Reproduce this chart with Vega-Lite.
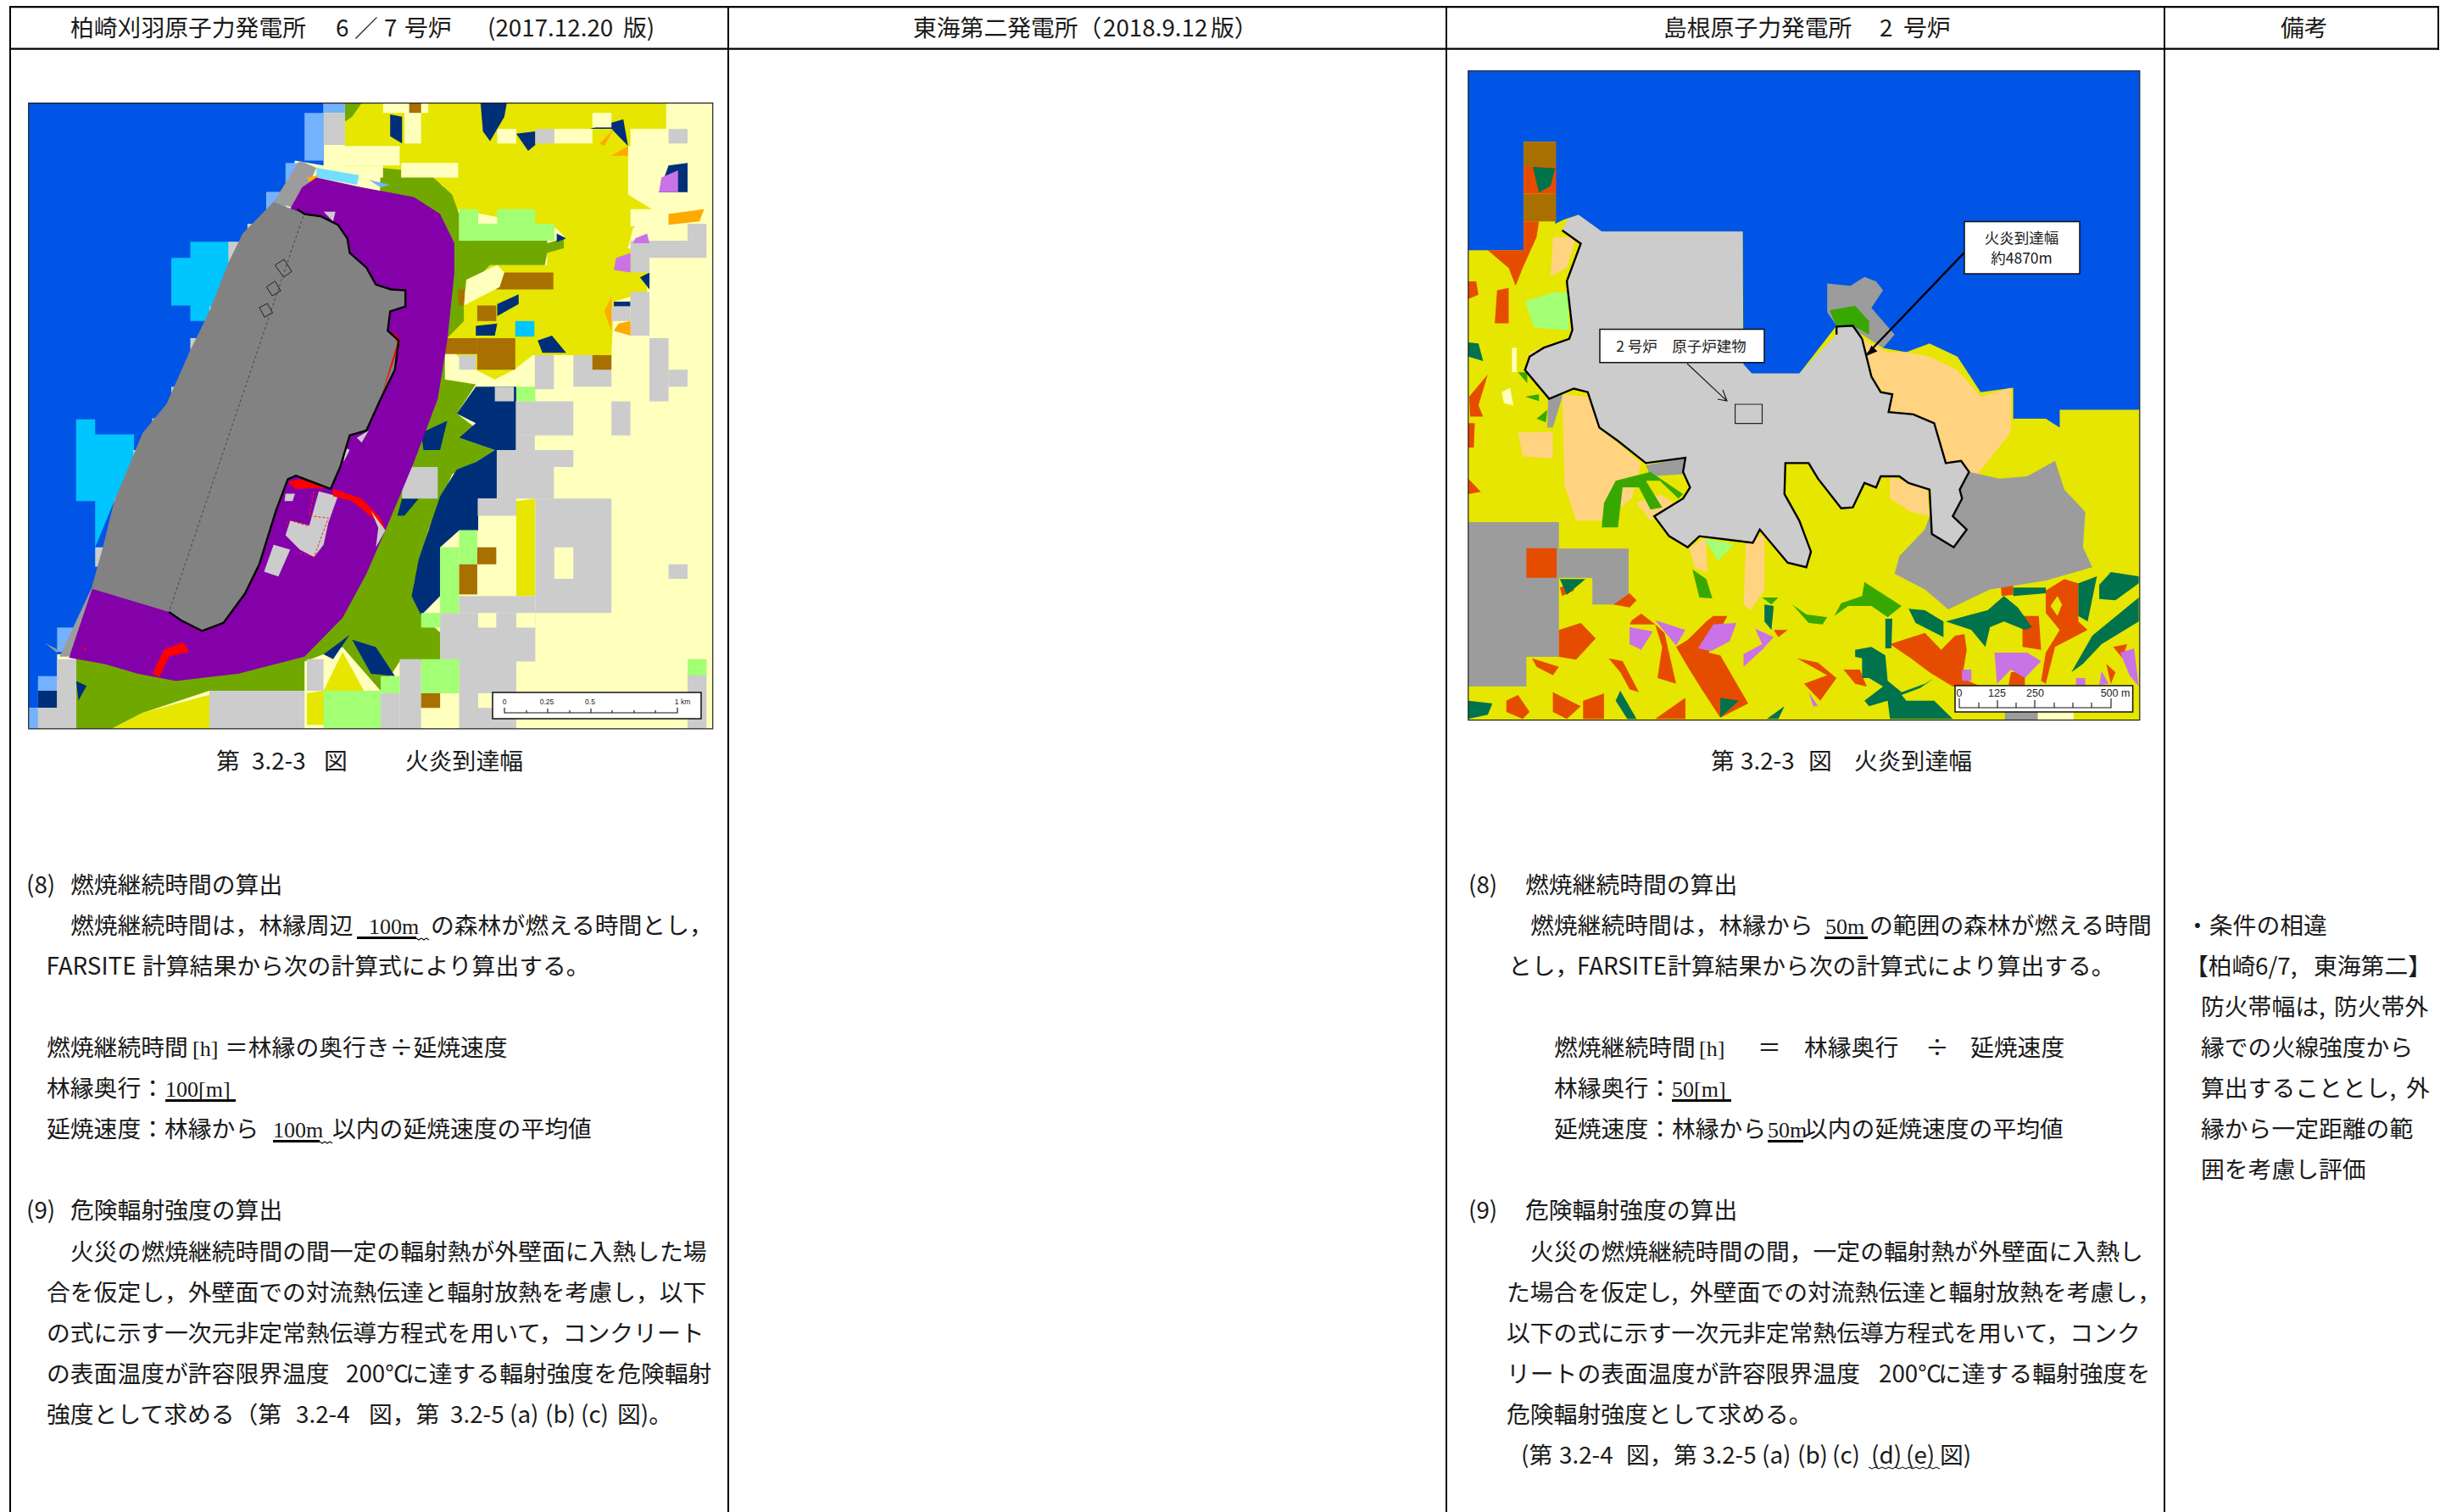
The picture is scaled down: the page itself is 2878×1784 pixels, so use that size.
{"$schema":"https://vega.github.io/schema/vega-lite/v6.json","width":2878,"height":1784,"padding":0,"autosize":{"type":"fit","contains":"padding"},"background":"#ffffff","config":{"view":{"stroke":null}},"resolve":{"scale":{"x":"independent","y":"independent"}},
"layer":[
{"data":{"values":[{"c":"cr","x":60,"y":212,"x2":1498,"y2":1498}]},"mark":{"type":"rect"},"encoding":{"x":{"field":"x","type":"quantitative","axis":null,"scale":{"domain":[0,1568],"range":[0,880],"nice":false,"zero":false}},"x2":{"field":"x2"},"y":{"field":"y","type":"quantitative","axis":null,"scale":{"domain":[0,1568],"range":[0,900],"nice":false,"zero":false}},"y2":{"field":"y2"},"fill":{"field":"c","type":"nominal","legend":null,"scale":{"domain":["sea","nv","lb","cy","pu","gr","ye","cr","lg","mg","dg","br","lt","or","po","rd","li","oe","dk","bg","pc","k"],"range":["#0055e6","#002f7a","#73b2ff","#00c5ff","#8400a8","#70a800","#e6e600","#ffffbe","#cccccc","#828282","#9c9c9c","#a87000","#a3ff73","#ffaa00","#ffd37f","#ff0000","#c973e6","#e64c00","#00734c","#38a800","#73dfff","#000000"]}}}},
{"data":{"values":[
{"s":"a1","c":"sea","p":[[60,212],[680,212],[680,340],[620,330],[600,395],[560,395],[560,470],[450,700],[340,880],[260,1200],[200,1345],[120,1345],[120,1400],[80,1400],[80,1455],[60,1455]]},
{"s":"a2","c":"ye","p":[[725,212],[1400,212],[1400,300],[1320,300],[1320,400],[1370,430],[1330,470],[1320,510],[1360,520],[1360,600],[1290,620],[1285,730],[1120,730],[1080,760],[1040,780],[1000,760],[960,730],[935,700],[975,650],[975,600],[1030,545],[1150,545],[1150,500],[1190,490],[1170,470],[960,430],[930,380],[800,345],[725,345]]},
{"s":"a3","c":"gr","p":[[725,212],[760,212],[740,240],[725,250]]},
{"s":"a4","c":"gr","p":[[800,345],[900,355],[950,400],[965,440],[965,495],[1150,495],[1150,500],[1185,490],[1185,510],[1150,520],[1145,545],[1030,545],[975,600],[975,660],[935,700],[935,780],[1000,790],[960,850],[1000,880],[965,900],[1040,925],[1000,950],[950,975],[900,1090],[870,1200],[885,1265],[925,1300],[925,1360],[840,1360],[800,1420],[720,1330],[640,1360],[640,1420],[440,1420],[300,1465],[235,1498],[160,1498],[160,1340],[300,1300],[600,1200],[780,1000]]},
{"s":"a5","c":"nv","p":[[1000,795],[1085,795],[1085,1025],[1005,1025],[1005,1090],[965,1090],[925,1125],[925,1225],[885,1265],[865,1225],[880,1150],[925,1020],[960,965],[1000,950],[1040,925],[965,900],[1000,870],[960,850]]},
{"s":"a6","c":"nv","p":[[740,1315],[790,1330],[830,1390],[780,1385]]},{"s":"a7","c":"nv","p":[[680,1345],[735,1305],[700,1355]]},{"s":"a8","c":"nv","p":[[160,1400],[182,1410],[165,1440]]},
{"s":"a9","c":"nv","p":[[1010,212],[1065,212],[1060,240],[1030,290],[1015,270]]},{"s":"a10","c":"nv","p":[[820,235],[845,240],[845,295],[820,280]]},{"s":"a11","c":"nv","p":[[1085,275],[1125,270],[1125,298],[1110,310]]},{"s":"a12","c":"nv","p":[[1405,340],[1445,335],[1445,395],[1385,395]]},{"s":"a13","c":"nv","p":[[885,890],[940,865],[925,925],[890,925]]},{"s":"a14","c":"nv","p":[[1130,700],[1160,690],[1190,725],[1140,725]]},{"s":"a15","c":"nv","p":[[1045,625],[1090,605],[1090,625],[1045,650]]},{"s":"a16","c":"nv","p":[[1000,670],[1045,665],[1040,690],[1000,690]]},{"s":"a17","c":"nv","p":[[1345,570],[1365,560],[1365,595]]},{"s":"a18","c":"nv","p":[[1290,620],[1325,620],[1325,630],[1290,630]]},{"s":"a19","c":"nv","p":[[1240,265],[1310,245],[1320,300],[1285,265]]},{"s":"a20","c":"nv","p":[[1170,480],[1190,490],[1170,498]]},
{"s":"a21","c":"nv","p":[[845,1025],[880,1025],[850,1060],[835,1060]]},
{"s":"a22","c":"ye","p":[[1085,1030],[1125,1025],[1125,1225],[1085,1225]]},{"s":"a23","c":"ye","p":[[680,1420],[720,1340],[765,1420],[720,1430],[680,1490],[645,1490],[645,1425]]},{"s":"a24","c":"ye","p":[[235,1498],[300,1465],[440,1428],[440,1498]]},{"s":"a25","c":"ye","p":[[1085,680],[1125,660],[1125,730],[1085,730]]},
{"s":"a26","c":"cy","p":[[360,530],[400,530],[400,497],[500,497],[480,660],[400,660],[400,628],[360,628]]},
{"s":"a27","c":"cy","p":[[160,862],[200,862],[200,893],[282,893],[280,1000],[240,1030],[200,1125],[200,1030],[160,1030]]}
]},"transform":[{"flatten":["p"]},{"window":[{"op":"row_number","as":"i"}]}],"mark":{"type":"line","strokeWidth":0},"encoding":{"x":{"field":"p[0]","type":"quantitative","axis":null,"scale":{"domain":[0,1568],"range":[0,880],"nice":false,"zero":false}},"y":{"field":"p[1]","type":"quantitative","axis":null,"scale":{"domain":[0,1568],"range":[0,900],"nice":false,"zero":false}},"fill":{"field":"c","type":"nominal","legend":null},"detail":{"field":"s"},"order":{"field":"i"}}},
{"data":{"values":[
{"c":"lb","x":640,"y":232,"x2":680,"y2":330},{"c":"lb","x":680,"y":212,"x2":725,"y2":232},{"c":"lb","x":600,"y":335,"x2":640,"y2":395},{"c":"lb","x":560,"y":395,"x2":600,"y2":430},{"c":"lb","x":120,"y":1290,"x2":160,"y2":1340},{"c":"lb","x":80,"y":1390,"x2":120,"y2":1420},{"c":"lb","x":60,"y":1455,"x2":80,"y2":1498},
{"c":"nv","x":80,"y":1420,"x2":120,"y2":1455},
{"c":"lg","x":680,"y":232,"x2":725,"y2":298},{"c":"lg","x":120,"y":1355,"x2":160,"y2":1498},{"c":"lg","x":80,"y":1455,"x2":160,"y2":1498},
{"c":"lg","x":480,"y":497,"x2":505,"y2":540},{"c":"lg","x":400,"y":695,"x2":430,"y2":750},{"c":"lg","x":360,"y":795,"x2":380,"y2":825},{"c":"lg","x":320,"y":860,"x2":335,"y2":890},{"c":"lg","x":440,"y":630,"x2":460,"y2":670},{"c":"lg","x":280,"y":925,"x2":300,"y2":960},{"c":"lg","x":240,"y":1025,"x2":260,"y2":1090},{"c":"lg","x":200,"y":1125,"x2":225,"y2":1165},{"c":"lg","x":520,"y":460,"x2":540,"y2":480},
{"c":"cr","x":683,"y":300,"x2":840,"y2":340},{"c":"cr","x":725,"y":340,"x2":805,"y2":365},{"c":"cr","x":843,"y":335,"x2":963,"y2":365},{"c":"cr","x":850,"y":230,"x2":885,"y2":295},{"c":"cr","x":805,"y":212,"x2":900,"y2":232},{"c":"cr","x":1045,"y":265,"x2":1085,"y2":295},{"c":"cr","x":1165,"y":265,"x2":1245,"y2":295},{"c":"cr","x":1245,"y":232,"x2":1285,"y2":262},{"c":"cr","x":1325,"y":265,"x2":1405,"y2":330},{"c":"cr","x":1325,"y":430,"x2":1405,"y2":465},{"c":"cr","x":1005,"y":1160,"x2":1085,"y2":1225},
{"c":"lg","x":1124,"y":730,"x2":1164,"y2":800},{"c":"lg","x":1205,"y":730,"x2":1285,"y2":795},{"c":"lg","x":1040,"y":795,"x2":1080,"y2":825},{"c":"lg","x":1084,"y":825,"x2":1205,"y2":895},{"c":"lg","x":1084,"y":895,"x2":1124,"y2":925},{"c":"lg","x":1044,"y":925,"x2":1205,"y2":960},{"c":"lg","x":1044,"y":960,"x2":1164,"y2":1025},{"c":"lg","x":1004,"y":1025,"x2":1085,"y2":1060},{"c":"lg","x":1125,"y":1025,"x2":1285,"y2":1260},{"c":"lg","x":1285,"y":825,"x2":1325,"y2":895},{"c":"lg","x":1365,"y":695,"x2":1405,"y2":825},{"c":"lg","x":1405,"y":760,"x2":1445,"y2":795},{"c":"lg","x":1405,"y":1160,"x2":1445,"y2":1190},{"c":"lg","x":965,"y":1225,"x2":1125,"y2":1260},{"c":"lg","x":925,"y":1260,"x2":1125,"y2":1360},{"c":"lg","x":965,"y":1355,"x2":1085,"y2":1498},{"c":"lg","x":840,"y":1355,"x2":885,"y2":1498},{"c":"lg","x":645,"y":1355,"x2":680,"y2":1420},{"c":"lg","x":440,"y":1420,"x2":640,"y2":1498},{"c":"lg","x":800,"y":1425,"x2":840,"y2":1498},{"c":"lg","x":1325,"y":495,"x2":1485,"y2":530},{"c":"lg","x":1445,"y":460,"x2":1485,"y2":495},{"c":"lg","x":1325,"y":530,"x2":1365,"y2":560},{"c":"lg","x":1325,"y":600,"x2":1365,"y2":690},{"c":"lg","x":1285,"y":630,"x2":1325,"y2":660},{"c":"lg","x":1405,"y":265,"x2":1445,"y2":295},{"c":"lg","x":1125,"y":265,"x2":1165,"y2":295},{"c":"lg","x":965,"y":730,"x2":1000,"y2":760},{"c":"lg","x":845,"y":960,"x2":920,"y2":1025},{"c":"lg","x":1445,"y":1385,"x2":1485,"y2":1498},
{"c":"cr","x":1165,"y":1125,"x2":1205,"y2":1190},{"c":"cr","x":1005,"y":1260,"x2":1043,"y2":1290},{"c":"cr","x":1085,"y":1260,"x2":1125,"y2":1290},{"c":"cr","x":1005,"y":1425,"x2":1043,"y2":1455},
{"c":"lt","x":965,"y":430,"x2":1005,"y2":495},{"c":"lt","x":1045,"y":430,"x2":1125,"y2":495},{"c":"lt","x":1005,"y":460,"x2":1165,"y2":495},{"c":"lt","x":925,"y":1125,"x2":965,"y2":1260},{"c":"lt","x":965,"y":1090,"x2":1003,"y2":1160},{"c":"lt","x":885,"y":1260,"x2":925,"y2":1290},{"c":"lt","x":885,"y":1355,"x2":965,"y2":1425},{"c":"lt","x":680,"y":1420,"x2":800,"y2":1498},{"c":"lt","x":800,"y":1390,"x2":840,"y2":1425},{"c":"lt","x":1445,"y":1355,"x2":1485,"y2":1388},{"c":"lt","x":1085,"y":795,"x2":1125,"y2":825},
{"c":"br","x":1003,"y":628,"x2":1043,"y2":660},{"c":"br","x":1003,"y":695,"x2":1083,"y2":760},{"c":"br","x":935,"y":695,"x2":1003,"y2":728},{"c":"br","x":1043,"y":560,"x2":1163,"y2":595},{"c":"br","x":963,"y":595,"x2":977,"y2":628},{"c":"br","x":1245,"y":730,"x2":1285,"y2":760},{"c":"br","x":965,"y":1160,"x2":1003,"y2":1222},{"c":"br","x":1003,"y":1125,"x2":1043,"y2":1160},{"c":"br","x":885,"y":1425,"x2":925,"y2":1455},{"c":"br","x":860,"y":212,"x2":885,"y2":232},
{"c":"cy","x":1083,"y":660,"x2":1123,"y2":692}
]},"mark":{"type":"rect"},"encoding":{"x":{"field":"x","type":"quantitative","axis":null,"scale":{"domain":[0,1568],"range":[0,880],"nice":false,"zero":false}},"x2":{"field":"x2"},"y":{"field":"y","type":"quantitative","axis":null,"scale":{"domain":[0,1568],"range":[0,900],"nice":false,"zero":false}},"y2":{"field":"y2"},"fill":{"field":"c","type":"nominal","legend":null}}},
{"data":{"values":[
{"s":"b0","c":"cr","p":[[980,575],[1045,545],[1060,560],[1050,590],[975,628]]},
{"s":"b1","c":"li","p":[[1390,365],[1425,350],[1425,395],[1385,395]]},{"s":"b2","c":"li","p":[[1295,530],[1325,520],[1325,560],[1290,555]]},{"s":"b3","c":"li","p":[[1335,490],[1360,480],[1365,500],[1330,500]]},
{"s":"b4","c":"or","p":[[1260,295],[1290,265],[1270,300]]},{"s":"b5","c":"or","p":[[1285,320],[1320,300],[1320,320]]},{"s":"b6","c":"or","p":[[1405,440],[1480,430],[1470,455],[1405,462]]},{"s":"b7","c":"or","p":[[1300,665],[1325,660],[1325,690],[1290,680]]},{"s":"b8","c":"or","p":[[1270,640],[1285,610],[1285,680]]},
{"s":"b9","c":"dg","p":[[215,1210],[192,1210],[125,1350],[145,1350]]},{"s":"b10","c":"dg","p":[[630,330],[665,345],[625,430],[575,415]]},{"s":"b11","c":"dg","p":[[95,1322],[120,1335],[120,1342]]},
{"s":"b12","c":"pc","p":[[665,345],[755,360],[750,380],[665,365]]},{"s":"b13","c":"or","p":[[645,365],[670,360],[655,382]]},{"s":"b14","c":"lb","p":[[775,370],[820,380],[800,385]]},
{"s":"b15","c":"pu","p":[[635,385],[665,365],[760,385],[870,405],[925,440],[955,500],[955,560],[940,700],[920,820],[870,950],[810,1090],[770,1180],[720,1270],[640,1350],[500,1385],[370,1400],[290,1385],[220,1365],[145,1352],[192,1215],[400,800]]},
{"s":"b16","c":"mg","p":[[575,415],[640,440],[675,445],[710,462],[730,490],[735,520],[770,550],[790,585],[822,595],[852,597],[852,630],[820,640],[815,680],[838,700],[830,760],[800,820],[770,885],[735,895],[715,960],[695,1005],[622,978],[605,985],[580,1050],[545,1160],[515,1220],[470,1280],[425,1297],[380,1275],[355,1258],[192,1210],[215,1130],[240,1030],[300,890],[350,830],[400,720],[440,640],[480,540],[510,480]]},
{"s":"b17","c":"lg","p":[[670,1010],[710,1020],[690,1075],[680,1120],[660,1145],[630,1130],[600,1100],[610,1070],[650,1080]]},{"s":"b18","c":"lg","p":[[575,1120],[610,1130],[585,1185],[555,1175]]},{"s":"b19","c":"lg","p":[[680,435],[705,435],[700,455]]},{"s":"b20","c":"lg","p":[[750,900],[775,885],[760,910]]},{"s":"b21","c":"lg","p":[[725,920],[735,925],[722,950]]},{"s":"b22","c":"lg","p":[[600,1015],[620,1015],[615,1030],[598,1030]]},
{"s":"b23","c":"rd","p":[[700,1005],[760,1025],[800,1065],[810,1090],[790,1070],[740,1030],[700,1020]]},{"s":"b24","c":"rd","p":[[605,990],[630,985],[690,1003],[620,1005]]},{"s":"b25","c":"rd","p":[[320,1385],[345,1335],[385,1320],[398,1340],[355,1350],[335,1392]]},{"s":"b26","c":"rd","p":[[825,680],[842,700],[800,820],[815,770],[835,705]]},{"s":"b27","c":"rd","p":[[175,1330],[183,1335],[178,1338]]},
{"s":"b28","c":"lg","p":[[780,1050],[810,1090],[790,1125],[795,1085]]}
]},"transform":[{"flatten":["p"]},{"window":[{"op":"row_number","as":"i"}]}],"mark":{"type":"line","strokeWidth":0},"encoding":{"x":{"field":"p[0]","type":"quantitative","axis":null,"scale":{"domain":[0,1568],"range":[0,880],"nice":false,"zero":false}},"y":{"field":"p[1]","type":"quantitative","axis":null,"scale":{"domain":[0,1568],"range":[0,900],"nice":false,"zero":false}},"fill":{"field":"c","type":"nominal","legend":null},"detail":{"field":"s"},"order":{"field":"i"}}},
{"data":{"values":[
{"s":"o1","p":[[625,430],[640,440],[675,445],[710,462],[730,490],[735,520],[770,550],[790,585],[822,595],[852,597],[852,630],[820,640],[815,680],[838,700],[830,760],[800,820],[770,885],[735,895],[715,960],[695,1005],[622,978],[605,985],[580,1050],[545,1160],[515,1220],[470,1280],[425,1297],[380,1275],[355,1258]]}
]},"transform":[{"flatten":["p"]},{"window":[{"op":"row_number","as":"i"}]}],"mark":{"type":"line","stroke":"#000000","strokeWidth":2.4},"encoding":{"x":{"field":"p[0]","type":"quantitative","axis":null,"scale":{"domain":[0,1568],"range":[0,880],"nice":false,"zero":false}},"y":{"field":"p[1]","type":"quantitative","axis":null,"scale":{"domain":[0,1568],"range":[0,900],"nice":false,"zero":false}},"detail":{"field":"s"},"order":{"field":"i"}}},
{"data":{"values":[
{"s":"q1","p":[[578,545],[597,533],[613,558],[596,570],[578,545]]},{"s":"q2","p":[[560,590],[578,578],[590,598],[572,608],[560,590]]},{"s":"q3","p":[[545,632],[562,624],[573,643],[556,652],[545,632]]}
]},"transform":[{"flatten":["p"]},{"window":[{"op":"row_number","as":"i"}]}],"mark":{"type":"line","stroke":"#222222","strokeWidth":1},"encoding":{"x":{"field":"p[0]","type":"quantitative","axis":null,"scale":{"domain":[0,1568],"range":[0,880],"nice":false,"zero":false}},"y":{"field":"p[1]","type":"quantitative","axis":null,"scale":{"domain":[0,1568],"range":[0,900],"nice":false,"zero":false}},"detail":{"field":"s"},"order":{"field":"i"}}},
{"data":{"values":[{"s":"d1","p":[[637,445],[355,1258]]}]},"transform":[{"flatten":["p"]},{"window":[{"op":"row_number","as":"i"}]}],"mark":{"type":"line","stroke":"#333333","strokeWidth":0.8,"strokeDash":[3,3]},"encoding":{"x":{"field":"p[0]","type":"quantitative","axis":null,"scale":{"domain":[0,1568],"range":[0,880],"nice":false,"zero":false}},"y":{"field":"p[1]","type":"quantitative","axis":null,"scale":{"domain":[0,1568],"range":[0,900],"nice":false,"zero":false}},"detail":{"field":"s"},"order":{"field":"i"}}},
{"data":{"values":[{"s":"d2","p":[[660,1010],[650,1060],[690,1065],[660,1145],[625,1135]]},{"s":"d3","p":[[600,1075],[610,1070],[650,1082]]}]},"transform":[{"flatten":["p"]},{"window":[{"op":"row_number","as":"i"}]}],"mark":{"type":"line","stroke":"#ff2020","strokeWidth":1,"strokeDash":[3,2]},"encoding":{"x":{"field":"p[0]","type":"quantitative","axis":null,"scale":{"domain":[0,1568],"range":[0,880],"nice":false,"zero":false}},"y":{"field":"p[1]","type":"quantitative","axis":null,"scale":{"domain":[0,1568],"range":[0,900],"nice":false,"zero":false}},"detail":{"field":"s"},"order":{"field":"i"}}},
{"data":{"values":[{"c":"ye","x":58,"y":45,"x2":1502,"y2":1510}]},"mark":{"type":"rect"},"encoding":{"x":{"field":"x","type":"quantitative","axis":null,"scale":{"domain":[0,1568],"range":[1700,2560],"nice":false,"zero":false}},"x2":{"field":"x2"},"y":{"field":"y","type":"quantitative","axis":null,"scale":{"domain":[0,1568],"range":[60,880],"nice":false,"zero":false}},"y2":{"field":"y2"},"fill":{"field":"c","type":"nominal","legend":null}}},
{"data":{"values":[
{"s":"c1","c":"dg","p":[[58,48],[253,48],[253,525],[183,525],[183,630],[58,630]]},{"s":"c2","c":"dg","p":[[253,142],[403,142],[403,340],[325,340],[325,245],[253,245]]},
{"s":"c3","c":"oe","p":[[183,140],[248,140],[248,245],[183,245]]},{"s":"c4","c":"oe","p":[[253,430],[300,405],[332,460],[290,535],[253,525]]},{"s":"c5","c":"oe","p":[[195,530],[253,560],[240,590],[205,560]]},{"s":"c6","c":"oe","p":[[410,395],[430,372],[460,410],[405,410]]},{"s":"c7","c":"oe","p":[[460,410],[480,440],[505,620],[465,600],[475,490]]},{"s":"c8","c":"oe","p":[[505,490],[530,465],[570,400],[585,380],[615,380],[575,510],[600,520],[660,690],[600,740],[560,640],[530,560]]},{"s":"c9","c":"oe","p":[[360,530],[390,540],[425,650],[405,640],[385,580]]},{"s":"c10","c":"oe","p":[[765,530],[810,545],[850,600],[815,680],[780,620],[830,590]]},{"s":"c11","c":"oe","p":[[865,570],[900,570],[915,630],[890,620]]},{"s":"c12","c":"oe","p":[[965,480],[1040,440],[1075,500],[1105,450],[1125,445],[1130,500],[1120,600],[1160,630],[1100,630],[1050,580],[1010,530]]},{"s":"c13","c":"oe","p":[[1250,380],[1285,380],[1290,500],[1250,490]]},{"s":"c14","c":"oe","p":[[1300,290],[1340,250],[1370,265],[1370,400],[1390,430],[1320,490],[1300,620],[1290,610],[1300,510],[1330,430],[1300,370]]},{"s":"c15","c":"ye","p":[[1325,310],[1335,340],[1325,380],[1310,345]]},{"s":"c16","c":"oe","p":[[1203,268],[1230,268],[1230,305],[1205,310]]},{"s":"c17","c":"oe","p":[[1225,580],[1255,575],[1255,625],[1220,625]]},{"s":"c18","c":"oe","p":[[305,680],[350,655],[350,745],[305,745]]},{"s":"c19","c":"oe","p":[[140,680],[165,660],[190,720],[175,745],[140,720]]},{"s":"c20","c":"oe","p":[[240,650],[300,700],[270,745],[240,720]]},{"s":"c21","c":"oe","p":[[460,745],[525,670],[525,745]]},{"s":"c22","c":"oe","p":[[1445,490],[1475,480],[1465,530]]},{"s":"c23","c":"oe","p":[[1430,550],[1450,580],[1440,620]]},{"s":"c24","c":"oe","p":[[255,280],[285,260],[285,290],[260,310]]},{"s":"c25","c":"oe","p":[[370,340],[405,300],[420,325],[405,350]]},{"s":"c26","c":"oe","p":[[715,430],[745,430],[725,455]]},
{"s":"c27","c":"li","p":[[460,395],[525,430],[505,485]]},{"s":"c28","c":"li","p":[[585,410],[635,405],[620,470],[580,505],[552,495]]},{"s":"c29","c":"li","p":[[405,420],[455,435],[430,500],[405,480]]},{"s":"c30","c":"li","p":[[675,425],[715,455],[690,500],[650,560],[650,515],[690,480]]},{"s":"c31","c":"li","p":[[1190,510],[1260,510],[1290,540],[1255,600],[1225,570],[1195,620]]},{"s":"c32","c":"li","p":[[1460,510],[1490,495],[1500,630],[1480,590]]},{"s":"c33","c":"li","p":[[1120,570],[1140,570],[1140,610],[1120,610]]},{"s":"c34","c":"li","p":[[1365,600],[1385,600],[1385,625],[1365,625]]},{"s":"c35","c":"li","p":[[1420,575],[1435,620],[1415,625]]},{"s":"c36","c":"li","p":[[790,650],[810,700],[800,700]]},
{"s":"c37","c":"dk","p":[[58,680],[110,690],[100,730],[58,745]]},{"s":"c38","c":"dk","p":[[375,680],[385,645],[420,745],[400,745]]},{"s":"c39","c":"dk","p":[[600,670],[640,680],[600,740]]},{"s":"c40","c":"dk","p":[[700,745],[738,700],[725,745]]},{"s":"c41","c":"dk","p":[[695,340],[715,345],[710,430],[695,400]]},{"s":"c42","c":"dk","p":[[890,500],[925,490],[955,520],[960,610],[990,650],[1040,620],[1060,600],[1030,635],[990,660],[1000,680],[1060,680],[1100,745],[965,745],[960,680],[920,700],[910,680],[950,630],[920,600],[905,600],[905,530],[890,525]]},{"s":"c43","c":"dk","p":[[955,390],[970,390],[968,495],[955,495]]},{"s":"c44","c":"dk","p":[[1005,355],[1040,360],[1080,400],[1080,455],[1020,405]]},{"s":"c45","c":"dk","p":[[1085,400],[1140,375],[1175,360],[1210,310],[1240,350],[1270,420],[1255,430],[1210,400],[1180,420],[1170,490],[1140,430]]},{"s":"c46","c":"dk","p":[[1230,280],[1300,280],[1300,300],[1230,310]]},{"s":"c47","c":"dk","p":[[1370,265],[1410,240],[1390,400],[1370,380]]},{"s":"c48","c":"dk","p":[[1415,270],[1440,225],[1500,240],[1500,265],[1450,325],[1415,320]]},{"s":"c49","c":"dk","p":[[1355,580],[1400,450],[1500,315],[1500,400],[1420,480],[1380,550]]},{"s":"c50","c":"dk","p":[[255,250],[310,250],[270,305]]},
{"s":"c51","c":"bg","p":[[845,380],[860,335],[905,310],[910,260],[990,345],[960,385],[925,345],[875,345]]},{"s":"c52","c":"bg","p":[[755,340],[785,375],[830,385],[820,410],[790,405]]},{"s":"c53","c":"bg","p":[[540,215],[570,250],[583,318],[555,315]]},{"s":"c54","c":"bg","p":[[690,315],[725,315],[710,340]]},
{"s":"c55","c":"po","p":[[533,140],[570,100],[572,225],[545,210]]},{"s":"c56","c":"po","p":[[655,125],[695,90],[695,290],[665,360],[650,340]]},{"s":"c57","c":"lt","p":[[565,105],[630,125],[595,185]]},
{"s":"c58","c":"dg","p":[[1212,720],[1283,720],[1283,748],[1212,748]]},{"s":"c59","c":"cr","p":[[1283,720],[1360,720],[1360,748],[1283,748]]}
]},"transform":[{"flatten":["p"]},{"window":[{"op":"row_number","as":"i"}]}],"mark":{"type":"line","strokeWidth":0},"encoding":{"x":{"field":"p[0]","type":"quantitative","axis":null,"scale":{"domain":[0,1568],"range":[1700,2560],"nice":false,"zero":false}},"y":{"field":"p[1]","type":"quantitative","axis":null,"scale":{"domain":[0,780],"range":[600,860],"nice":false,"zero":false}},"fill":{"field":"c","type":"nominal","legend":null},"detail":{"field":"s"},"order":{"field":"i"}}},
{"data":{"values":[
{"s":"e1","c":"sea","p":[[58,45],[1502,45],[1502,810],[1330,810],[1330,850],[1300,830],[1230,830],[1230,760],[1160,770],[1110,690],[1050,660],[1000,680],[950,670],[900,620],[850,620],[770,728],[650,728],[648,408],[345,408],[295,370],[265,380],[245,390],[245,205],[177,205],[177,450],[58,450]]},
{"s":"e2","c":"po","p":[[905,650],[960,680],[1000,680],[1050,690],[1110,720],[1160,780],[1225,760],[1225,860],[1150,960],[1130,950],[1080,930],[1060,840],[960,820],[965,780],[930,750]]},
{"s":"e3","c":"dg","p":[[1135,950],[1200,965],[1260,960],[1320,925],[1340,990],[1385,1040],[1380,1120],[1400,1165],[1300,1195],[1180,1215],[1090,1260],[1040,1215],[975,1180],[985,1140],[1040,1080],[1050,1050],[1055,1090],[1102,1120],[1130,1080],[1100,1050],[1120,1010],[1115,990]]},
{"s":"e4","c":"dg","p":[[830,525],[880,530],[910,510],[935,520],[950,540],[925,580],[975,640],[950,670],[905,640],[850,620],[830,590]]},{"s":"e5","c":"bg","p":[[835,585],[890,575],[920,610],[920,640],[885,620],[850,622]]},
{"s":"e6","c":"dg","p":[[440,935],[525,918],[520,955],[450,960]]},{"s":"e7","c":"dg","p":[[230,785],[262,775],[240,850],[228,850]]},
{"s":"e8","c":"br","p":[[177,205],[247,205],[247,262],[177,262]]},{"s":"e9","c":"br","p":[[177,322],[247,322],[247,385],[177,385]]},{"s":"e10","c":"oe","p":[[177,262],[247,262],[247,322],[177,322]]},{"s":"e11","c":"dk","p":[[197,262],[245,265],[235,305],[210,320]]},
{"s":"e12","c":"oe","p":[[177,385],[210,385],[205,420],[175,490],[160,530],[145,490],[100,450],[177,450]]},{"s":"e13","c":"oe","p":[[120,540],[145,535],[145,615],[115,615]]},{"s":"e14","c":"oe","p":[[58,520],[75,520],[80,550],[58,560]]},{"s":"e15","c":"oe","p":[[60,780],[100,730],[80,800],[90,825],[62,825]]},{"s":"e16","c":"oe","p":[[58,840],[72,840],[70,895],[58,895]]},{"s":"e17","c":"oe","p":[[58,965],[85,995],[58,1000]]},{"s":"e18","c":"dk","p":[[58,658],[80,660],[90,700],[58,690]]},
{"s":"e19","c":"lt","p":[[180,565],[240,545],[272,545],[275,630],[200,625]]},
{"s":"e20","c":"po","p":[[260,775],[315,780],[340,850],[430,930],[410,1010],[350,1060],[290,1060],[265,980]]},{"s":"e21","c":"po","p":[[165,860],[240,860],[240,920],[175,915]]},{"s":"e22","c":"po","p":[[965,960],[1045,990],[1050,1050],[1010,1040],[965,1010]]},{"s":"e23","c":"po","p":[[240,420],[290,420],[270,490],[235,510]]},{"s":"e24","c":"po","p":[[190,680],[240,660],[180,715]]},{"s":"e25","c":"po","p":[[420,1020],[470,1000],[500,1020],[450,1060]]},
{"s":"e26","c":"bg","p":[[345,1075],[350,1020],[375,970],[450,950],[520,1000],[510,1010],[470,970],[440,970],[475,1030],[450,1035],[425,985],[390,985],[380,1075]]},{"s":"e27","c":"bg","p":[[165,725],[185,725],[185,750]]},{"s":"e28","c":"bg","p":[[205,830],[228,810],[225,838]]},{"s":"e29","c":"bg","p":[[180,780],[210,775],[210,790]]},
{"s":"e30","c":"cr","p":[[152,670],[162,670],[162,725],[152,725]]},{"s":"e31","c":"cr","p":[[130,770],[148,760],[155,800],[135,795]]},
{"s":"e32","c":"lg","p":[[260,405],[272,380],[295,370],[345,408],[648,408],[648,705],[668,728],[770,728],[850,640],[850,622],[885,620],[905,650],[925,735],[945,770],[970,775],[962,815],[1015,820],[1060,840],[1085,930],[1118,925],[1135,950],[1115,990],[1120,1010],[1100,1050],[1130,1080],[1102,1120],[1055,1090],[1050,990],[1005,975],[985,960],[945,960],[935,985],[910,975],[885,1030],[860,1032],[810,965],[790,930],[740,930],[738,1000],[770,1060],[795,1130],[785,1165],[745,1155],[685,1080],[670,1110],[555,1095],[530,1120],[490,1095],[458,1050],[520,1010],[535,985],[520,950],[525,918],[440,930],[380,880],[340,850],[315,770],[285,762],[232,785],[180,720],[190,690],[220,670],[275,650],[282,630],[270,520],[300,435]]},
{"s":"e33","c":"k","p":[[915,688],[925,665],[938,678]]}
]},"transform":[{"flatten":["p"]},{"window":[{"op":"row_number","as":"i"}]}],"mark":{"type":"line","strokeWidth":0},"encoding":{"x":{"field":"p[0]","type":"quantitative","axis":null,"scale":{"domain":[0,1568],"range":[1700,2560],"nice":false,"zero":false}},"y":{"field":"p[1]","type":"quantitative","axis":null,"scale":{"domain":[0,1568],"range":[60,880],"nice":false,"zero":false}},"fill":{"field":"c","type":"nominal","legend":null},"detail":{"field":"s"},"order":{"field":"i"}}},
{"data":{"values":[
{"s":"f1","p":[[905,650],[925,735],[945,770],[970,775],[962,815],[1015,820],[1060,840],[1085,930],[1118,925],[1135,950],[1115,990],[1120,1010],[1100,1050],[1130,1080],[1102,1120],[1055,1090],[1050,990],[1005,975],[985,960],[945,960],[935,985],[910,975],[885,1030],[860,1032],[810,965],[790,930],[740,930],[738,1000],[770,1060],[795,1130],[785,1165],[745,1155],[685,1080],[670,1110],[555,1095],[530,1120],[490,1095],[458,1050],[520,1010],[535,985],[520,950],[525,918],[440,930],[380,880],[340,850],[315,770],[285,762],[232,785],[180,720],[190,690],[220,670],[275,650],[282,630],[270,520],[300,435],[260,405]]},
{"s":"f2","p":[[850,640],[850,622],[885,620],[905,650]]},
{"s":"f3","p":[[1125,455],[915,685]]}
]},"transform":[{"flatten":["p"]},{"window":[{"op":"row_number","as":"i"}]}],"mark":{"type":"line","stroke":"#000000","strokeWidth":2.4},"encoding":{"x":{"field":"p[0]","type":"quantitative","axis":null,"scale":{"domain":[0,1568],"range":[1700,2560],"nice":false,"zero":false}},"y":{"field":"p[1]","type":"quantitative","axis":null,"scale":{"domain":[0,1568],"range":[60,880],"nice":false,"zero":false}},"detail":{"field":"s"},"order":{"field":"i"}}},
{"data":{"values":[
{"x":33.7,"y":121.7,"x2":840.7,"y2":859.8},{"x":1731.8,"y":83.5,"x2":2523.8,"y2":849.7},{"x":2046.6,"y":477,"x2":2078.5,"y2":499.6}
]},"mark":{"type":"rect","fill":null,"stroke":"#222222","strokeWidth":1.2},"encoding":{"x":{"field":"x","type":"quantitative","axis":null,"scale":{"domain":[0,2878],"range":[0,2878],"nice":false,"zero":false}},"x2":{"field":"x2"},"y":{"field":"y","type":"quantitative","axis":null,"scale":{"domain":[0,1784],"range":[0,1784],"nice":false,"zero":false}},"y2":{"field":"y2"}}},
{"data":{"values":[
{"x":2317,"y":261.4,"x2":2453,"y2":323},{"x":1887,"y":388.4,"x2":2081,"y2":427.7},{"x":2306,"y":809,"x2":2515.6,"y2":840},{"x":581,"y":817,"x2":827,"y2":848}
]},"mark":{"type":"rect","fill":"#ffffff","stroke":"#111111","strokeWidth":1.5},"encoding":{"x":{"field":"x","type":"quantitative","axis":null,"scale":{"domain":[0,2878],"range":[0,2878],"nice":false,"zero":false}},"x2":{"field":"x2"},"y":{"field":"y","type":"quantitative","axis":null,"scale":{"domain":[0,1784],"range":[0,1784],"nice":false,"zero":false}},"y2":{"field":"y2"}}},
{"data":{"values":[
{"s":"g1","p":[[1990,429],[2036,472]]},{"s":"g2","p":[[2026,471],[2037,473],[2032,460]]},
{"s":"g3","p":[[2311,824],[2311,835],[2490,835],[2490,824]]},{"s":"g4","p":[[2334,835],[2334,829]]},{"s":"g5","p":[[2356,835],[2356,826]]},{"s":"g6","p":[[2378,835],[2378,829]]},{"s":"g7","p":[[2400,835],[2400,826]]},{"s":"g8","p":[[2423,835],[2423,829]]},{"s":"g9","p":[[2445,835],[2445,829]]},{"s":"g10","p":[[2467,835],[2467,829]]},
{"s":"g11","p":[[595,835],[595,841],[799,841],[799,835]]},{"s":"g12","p":[[621,841],[621,838]]},{"s":"g13","p":[[646,841],[646,836]]},{"s":"g14","p":[[672,841],[672,838]]},{"s":"g15","p":[[697,841],[697,836]]},{"s":"g16","p":[[722,841],[722,838]]},{"s":"g17","p":[[748,841],[748,838]]},{"s":"g18","p":[[773,841],[773,838]]},
{"s":"w1","p":[[491,1107],[494,1109],[497,1107],[500,1109],[503,1107],[506,1109]]},{"s":"w2","p":[[377,1347],[380,1349],[383,1347],[386,1349],[389,1347],[392,1349]]},
{"s":"w3","p":[[2204,1731],[2208,1733],[2212,1731],[2216,1733],[2220,1731],[2224,1733],[2228,1731],[2232,1733],[2236,1731],[2240,1733],[2244,1731],[2248,1733],[2252,1731],[2256,1733],[2260,1731],[2264,1733],[2268,1731],[2272,1733],[2276,1731],[2280,1733],[2284,1731],[2288,1733]]}
]},"transform":[{"flatten":["p"]},{"window":[{"op":"row_number","as":"i"}]}],"mark":{"type":"line","stroke":"#111111","strokeWidth":1.1},"encoding":{"x":{"field":"p[0]","type":"quantitative","axis":null,"scale":{"domain":[0,2878],"range":[0,2878],"nice":false,"zero":false}},"y":{"field":"p[1]","type":"quantitative","axis":null,"scale":{"domain":[0,1784],"range":[0,1784],"nice":false,"zero":false}},"detail":{"field":"s"},"order":{"field":"i"}}},
{"data":{"values":[
{"c":"k","x":11,"y":7,"x2":2877,"y2":9.2},{"c":"k","x":11,"y":56.5,"x2":2877,"y2":58.7},{"c":"k","x":11,"y":7,"x2":13,"y2":1784},{"c":"k","x":858,"y":7,"x2":860,"y2":1784},{"c":"k","x":1705,"y":7,"x2":1707,"y2":1784},{"c":"k","x":2552,"y":7,"x2":2554,"y2":1784},{"c":"k","x":2875,"y":7,"x2":2877,"y2":58.7},
{"c":"k","x":421,"y":1105,"x2":491,"y2":1108},{"c":"k","x":195,"y":1297,"x2":278,"y2":1300},{"c":"k","x":322,"y":1345,"x2":377,"y2":1348},{"c":"k","x":2152,"y":1105,"x2":2203,"y2":1108},{"c":"k","x":1972,"y":1297,"x2":2042,"y2":1300},{"c":"k","x":2085,"y":1345,"x2":2127,"y2":1348}
]},"mark":{"type":"rect"},"encoding":{"x":{"field":"x","type":"quantitative","axis":null,"scale":{"domain":[0,2878],"range":[0,2878],"nice":false,"zero":false}},"x2":{"field":"x2"},"y":{"field":"y","type":"quantitative","axis":null,"scale":{"domain":[0,1784],"range":[0,1784],"nice":false,"zero":false}},"y2":{"field":"y2"},"fill":{"field":"c","type":"nominal","legend":null}}},
{"data":{"values":[
{"x":83,"y":35,"t":"柏崎刈羽原子力発電所"},{"x":396,"y":35,"t":"6"},{"x":418,"y":35,"t":"／"},{"x":453,"y":35,"t":"7"},{"x":477,"y":35,"t":"号炉"},{"x":575,"y":35,"t":"(2017.12.20"},{"x":735,"y":35,"t":"版)"},
{"x":1077,"y":35,"t":"東海第二発電所（"},{"x":1301,"y":35,"t":"2018.9.12"},{"x":1428,"y":35,"t":"版）"},
{"x":1962,"y":35,"t":"島根原子力発電所"},{"x":2217,"y":35,"t":"2"},{"x":2245,"y":35,"t":"号炉"},{"x":2690,"y":35,"t":"備考"},
{"x":255,"y":900,"t":"第"},{"x":297,"y":900,"t":"3.2-3"},{"x":382,"y":900,"t":"図"},{"x":478,"y":900,"t":"火炎到達幅"},
{"x":2018,"y":900,"t":"第"},{"x":2053,"y":900,"t":"3.2-3"},{"x":2133,"y":900,"t":"図"},{"x":2187,"y":900,"t":"火炎到達幅"},
{"x":31,"y":1045.5,"t":"(8)"},{"x":83,"y":1045.5,"t":"燃焼継続時間の算出"},
{"x":83,"y":1093.5,"t":"燃焼継続時間は，林縁周辺"},{"x":508,"y":1093.5,"t":"の森林が燃える時間とし，"},
{"x":54.5,"y":1141.5,"t":"FARSITE"},{"x":168,"y":1141.5,"t":"計算結果から次の計算式により算出する。"},
{"x":55,"y":1237.5,"t":"燃焼継続時間"},{"x":265,"y":1237.5,"t":"＝林縁の奥行き÷延焼速度"},
{"x":55,"y":1285.5,"t":"林縁奥行："},
{"x":55,"y":1333.5,"t":"延焼速度：林縁から"},{"x":392,"y":1333.5,"t":"以内の延焼速度の平均値"},
{"x":31,"y":1430,"t":"(9)"},{"x":83,"y":1430,"t":"危険輻射強度の算出"},
{"x":83,"y":1478.5,"t":"火災の燃焼継続時間の間一定の輻射熱が外壁面に入熱した場"},
{"x":55,"y":1526.5,"t":"合を仮定し，外壁面での対流熱伝達と輻射放熱を考慮し，以下"},
{"x":55,"y":1574.5,"t":"の式に示す一次元非定常熱伝導方程式を用いて，コンクリート"},
{"x":55,"y":1622.5,"t":"の表面温度が許容限界温度"},{"x":408,"y":1622.5,"t":"200℃"},{"x":478,"y":1622.5,"t":"に達する輻射強度を危険輻射"},
{"x":55,"y":1670.5,"t":"強度として求める（第"},{"x":349,"y":1670.5,"t":"3.2-4"},{"x":435,"y":1670.5,"t":"図，第"},{"x":531,"y":1670.5,"t":"3.2-5"},{"x":601,"y":1670.5,"t":"(a)"},{"x":643,"y":1670.5,"t":"(b)"},{"x":685,"y":1670.5,"t":"(c)"},{"x":728,"y":1670.5,"t":"図)。"},
{"x":1732,"y":1045.5,"t":"(8)"},{"x":1799,"y":1045.5,"t":"燃焼継続時間の算出"},
{"x":1805,"y":1093.5,"t":"燃焼継続時間は，林縁から"},{"x":2205,"y":1093.5,"t":"の範囲の森林が燃える時間"},
{"x":1779,"y":1141.5,"t":"とし，"},{"x":1860,"y":1141.5,"t":"FARSITE"},{"x":1967,"y":1141.5,"t":"計算結果から次の計算式により算出する。"},
{"x":1833,"y":1237.5,"t":"燃焼継続時間"},{"x":2073,"y":1237.5,"t":"＝"},{"x":2128,"y":1237.5,"t":"林縁奥行"},{"x":2271,"y":1237.5,"t":"÷"},{"x":2324,"y":1237.5,"t":"延焼速度"},
{"x":1833,"y":1285.5,"t":"林縁奥行："},
{"x":1833,"y":1333.5,"t":"延焼速度：林縁から"},{"x":2128,"y":1333.5,"t":"以内の延焼速度の平均値"},
{"x":1732,"y":1430,"t":"(9)"},{"x":1799,"y":1430,"t":"危険輻射強度の算出"},
{"x":1805,"y":1478.5,"t":"火災の燃焼継続時間の間，一定の輻射熱が外壁面に入熱し"},
{"x":1777,"y":1526.5,"t":"た場合を仮定し,"},{"x":1993,"y":1526.5,"t":"外壁面での対流熱伝達と輻射放熱を考慮し，"},
{"x":1777,"y":1574.5,"t":"以下の式に示す一次元非定常熱伝導方程式を用いて，コンク"},
{"x":1777,"y":1622.5,"t":"リートの表面温度が許容限界温度"},{"x":2216,"y":1622.5,"t":"200℃"},{"x":2286,"y":1622.5,"t":"に達する輻射強度を"},
{"x":1777,"y":1670.5,"t":"危険輻射強度として求める。"},
{"x":1794,"y":1718.5,"t":"(第"},{"x":1839,"y":1718.5,"t":"3.2-4"},{"x":1918,"y":1718.5,"t":"図，"},{"x":1974,"y":1718.5,"t":"第"},{"x":2008,"y":1718.5,"t":"3.2-5"},{"x":2078,"y":1718.5,"t":"(a)"},{"x":2120,"y":1718.5,"t":"(b)"},{"x":2161,"y":1718.5,"t":"(c)"},{"x":2207,"y":1718.5,"t":"(d)"},{"x":2248,"y":1718.5,"t":"(e)"},{"x":2288,"y":1718.5,"t":"図)"},
{"x":2578,"y":1093.5,"t":"・条件の相違"},
{"x":2577,"y":1141.5,"t":"【柏崎"},{"x":2660,"y":1141.5,"t":"6/7,"},{"x":2729,"y":1141.5,"t":"東海第二】"},
{"x":2596,"y":1189.5,"t":"防火帯幅は,"},{"x":2753,"y":1189.5,"t":"防火帯外"},
{"x":2596,"y":1237.5,"t":"縁での火線強度から"},
{"x":2596,"y":1285.5,"t":"算出することとし,"},{"x":2838,"y":1285.5,"t":"外"},
{"x":2596,"y":1333.5,"t":"縁から一定距離の範"},
{"x":2596,"y":1381.5,"t":"囲を考慮し評価"}
]},"mark":{"type":"text","align":"left","baseline":"middle","font":"Noto Sans CJK JP","fontSize":27.8,"fill":"#1a1a1a"},"encoding":{"x":{"field":"x","type":"quantitative","axis":null,"scale":{"domain":[0,2878],"range":[0,2878],"nice":false,"zero":false}},"y":{"field":"y","type":"quantitative","axis":null,"scale":{"domain":[0,1784],"range":[0,1784],"nice":false,"zero":false}},"text":{"field":"t"}}},
{"data":{"values":[
{"x":435,"y":1093.5,"t":"100m"},{"x":227,"y":1237.5,"t":"[h]"},{"x":195,"y":1285.5,"t":"100[m]"},{"x":322,"y":1333.5,"t":"100m"},
{"x":2153,"y":1093.5,"t":"50m"},{"x":2004,"y":1237.5,"t":"[h]"},{"x":1972,"y":1285.5,"t":"50[m]"},{"x":2085,"y":1333.5,"t":"50m"}
]},"mark":{"type":"text","align":"left","baseline":"middle","font":"Liberation Serif","fontSize":26,"fill":"#1a1a1a"},"encoding":{"x":{"field":"x","type":"quantitative","axis":null,"scale":{"domain":[0,2878],"range":[0,2878],"nice":false,"zero":false}},"y":{"field":"y","type":"quantitative","axis":null,"scale":{"domain":[0,1784],"range":[0,1784],"nice":false,"zero":false}},"text":{"field":"t"}}},
{"data":{"values":[
{"x":2384.5,"y":281.5,"t":"火炎到達幅"},{"x":2384.5,"y":305.5,"t":"約4870m"},{"x":1983,"y":409.5,"t":"2 号炉　原子炉建物"}
]},"mark":{"type":"text","align":"center","baseline":"middle","font":"Noto Sans CJK JP","fontSize":17.5,"fill":"#1a1a1a"},"encoding":{"x":{"field":"x","type":"quantitative","axis":null,"scale":{"domain":[0,2878],"range":[0,2878],"nice":false,"zero":false}},"y":{"field":"y","type":"quantitative","axis":null,"scale":{"domain":[0,1784],"range":[0,1784],"nice":false,"zero":false}},"text":{"field":"t"}}},
{"data":{"values":[
{"x":2311,"y":818,"t":"0"},{"x":2355.5,"y":818,"t":"125"},{"x":2400.5,"y":818,"t":"250"},{"x":2495,"y":818,"t":"500 m"}
]},"mark":{"type":"text","align":"center","baseline":"middle","font":"Liberation Sans","fontSize":12.5,"fill":"#222222"},"encoding":{"x":{"field":"x","type":"quantitative","axis":null,"scale":{"domain":[0,2878],"range":[0,2878],"nice":false,"zero":false}},"y":{"field":"y","type":"quantitative","axis":null,"scale":{"domain":[0,1784],"range":[0,1784],"nice":false,"zero":false}},"text":{"field":"t"}}},
{"data":{"values":[
{"x":595,"y":828,"t":"0"},{"x":645,"y":828,"t":"0.25"},{"x":696,"y":828,"t":"0.5"},{"x":805,"y":828,"t":"1 km"}
]},"mark":{"type":"text","align":"center","baseline":"middle","font":"Liberation Sans","fontSize":8.5,"fill":"#222222"},"encoding":{"x":{"field":"x","type":"quantitative","axis":null,"scale":{"domain":[0,2878],"range":[0,2878],"nice":false,"zero":false}},"y":{"field":"y","type":"quantitative","axis":null,"scale":{"domain":[0,1784],"range":[0,1784],"nice":false,"zero":false}},"text":{"field":"t"}}}
]}
